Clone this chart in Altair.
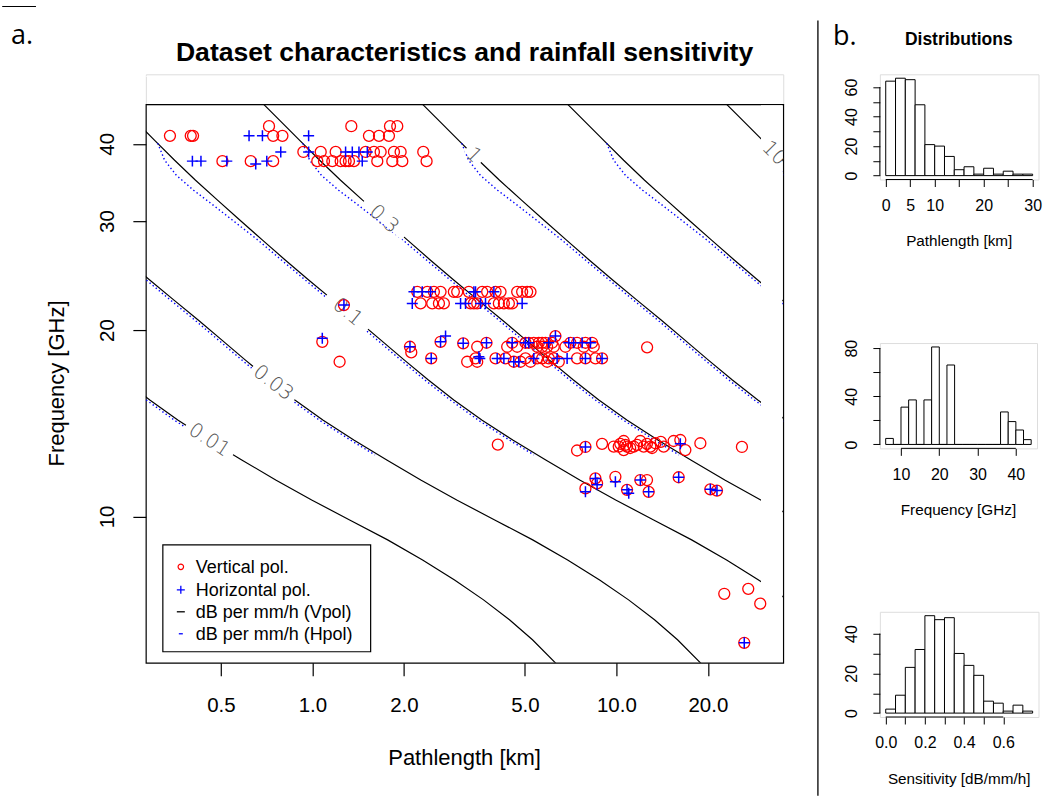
import altair as alt
import pandas as pd

SANS = "Liberation Sans"

# ---------------- scatter data (pathlength km, frequency GHz) ----------------
V_38 = [(0.340, 41.2), (0.398, 41.2), (0.405, 41.2), (0.743, 41.2), (0.797, 41.2), (1.535, 41.2),
        (1.656, 41.2), (1.786, 41.2), (0.720, 42.7), (1.343, 42.7), (1.800, 42.7), (1.902, 42.7),
        (0.934, 38.8), (1.065, 38.8), (1.193, 38.8), (1.497, 38.8), (1.594, 38.8), (1.677, 38.8),
        (1.855, 38.8), (1.951, 38.8), (2.316, 38.8), (0.506, 37.5), (0.627, 37.5), (0.743, 37.5),
        (1.038, 37.5), (1.092, 37.5), (1.163, 37.5), (1.239, 37.5), (1.286, 37.5), (1.319, 37.5),
        (1.370, 37.5), (1.635, 37.5), (1.832, 37.5), (1.976, 37.5), (2.375, 37.5)]
H_38 = [(0.619, 41.2), (0.685, 41.2), (0.972, 41.2), (0.787, 38.8), (0.972, 38.8), (1.286, 38.8),
        (1.353, 38.8), (1.423, 38.8), (1.516, 38.8), (0.403, 37.5), (0.430, 37.5), (0.523, 37.5),
        (0.708, 37.5), (1.459, 37.5), (0.651, 37.1)]
V_23 = [(2.213, 23.06), (2.387, 23.06), (2.510, 23.06), (2.640, 23.06), (2.920, 23.06), (2.995, 23.06),
        (3.271, 23.06), (3.620, 23.06), (3.758, 23.06), (4.004, 23.06), (4.158, 23.06), (4.717, 23.06),
        (4.898, 23.06), (5.087, 23.06), (5.217, 23.06), (2.270, 22.09), (2.479, 22.09), (2.608, 22.09),
        (2.707, 22.09), (3.313, 22.09), (3.398, 22.09), (3.485, 22.09), (3.954, 22.09), (4.106, 22.09),
        (4.265, 22.09), (4.429, 22.09), (4.542, 22.09), (1.270, 21.95)]
H_23 = [(2.158, 23.06), (2.298, 23.06), (2.448, 23.06), (3.398, 23.06), (3.441, 23.06), (3.954, 23.06),
        (2.131, 22.09), (3.072, 22.09), (3.190, 22.09), (3.574, 22.09), (3.711, 22.09), (4.898, 22.09),
        (1.270, 21.95)]
V_18 = [(3.739, 19.08), (4.542, 19.08), (5.023, 19.08), (5.151, 19.08), (5.350, 19.08), (5.557, 19.08),
        (5.699, 19.08), (5.844, 19.08), (6.146, 19.08), (7.059, 19.08), (7.425, 19.08), (7.911, 19.08),
        (8.318, 19.08), (6.302, 19.56), (3.485, 18.80), (4.373, 18.80), (4.717, 18.80), (5.487, 18.80),
        (5.699, 18.80), (5.918, 18.80), (6.224, 18.80), (6.798, 18.80), (7.811, 18.80), (8.424, 18.80),
        (3.441, 18.00), (4.004, 18.00), (4.318, 18.00), (5.023, 18.00), (5.487, 18.00), (5.699, 18.00),
        (5.993, 18.00), (6.224, 18.00), (7.425, 18.00), (7.911, 18.00), (8.531, 18.00), (8.972, 18.00),
        (4.598, 17.78), (4.837, 17.78), (5.217, 17.78), (5.918, 17.78), (6.465, 17.78), (1.078, 19.15),
        (1.229, 17.78), (2.094, 18.80), (2.115, 18.41), (2.460, 18.00), (2.640, 19.15), (3.134, 19.04),
        (3.230, 17.78), (3.485, 17.78), (12.62, 18.76)]
H_18 = [(3.739, 19.08), (4.542, 19.08), (5.023, 19.08), (5.151, 19.08), (5.993, 19.08), (6.971, 19.08),
        (7.239, 19.08), (7.715, 19.08), (8.215, 19.08), (6.302, 19.56), (3.555, 18.00), (4.054, 18.00),
        (4.265, 18.00), (5.350, 18.00), (6.383, 18.00), (6.885, 18.00), (7.911, 18.00), (8.972, 18.00),
        (4.598, 17.78), (4.775, 17.78), (1.078, 19.40), (2.094, 18.80), (2.460, 18.00), (2.640, 19.15),
        (2.742, 19.56), (3.134, 19.04), (3.529, 18.12)]
V_13 = [(4.074, 13.06), (7.425, 12.78), (7.911, 12.95), (8.972, 13.10), (9.800, 12.97), (10.18, 12.97),
        (10.30, 13.10), (10.57, 13.24), (10.57, 12.80), (10.70, 13.05), (10.84, 12.97), (11.10, 12.90),
        (11.40, 12.97), (11.70, 13.05), (11.99, 13.24), (12.30, 12.97), (12.60, 13.10), (12.93, 12.97),
        (13.10, 12.90), (13.43, 13.13), (14.00, 13.20), (14.31, 12.97), (15.43, 13.24), (16.23, 13.29),
        (16.86, 12.80), (18.89, 13.13), (25.88, 12.95)]
H_13 = [(7.911, 12.95), (16.23, 13.10)]
V_11 = [(7.911, 11.10), (8.531, 11.52), (8.640, 11.31), (9.925, 11.59), (10.84, 11.04), (11.99, 11.45),
        (12.61, 11.45), (12.77, 10.96), (16.03, 11.57), (20.37, 11.06), (21.42, 11.01)]
H_11 = [(7.911, 10.96), (8.531, 11.52), (8.640, 11.25), (9.925, 11.38), (10.84, 11.04), (10.98, 10.90),
        (11.99, 11.45), (12.77, 10.96), (16.03, 11.57), (20.37, 11.06), (21.42, 11.01)]
V_7 = [(22.64, 7.50), (27.15, 7.64), (29.73, 7.23), (26.34, 6.25)]
H_7 = [(26.34, 6.25)]

# ---------------- contour data ----------------
# 0.01 dB per mm/h contour (V pol); other levels scale with the level
F_GRID = [47.88, 46.14, 43.64, 40.52, 37.62, 34.93, 32.43, 30.10, 27.95, 25.94, 24.08, 22.36, 20.75,
          19.27, 17.89, 16.61, 15.42, 14.31, 13.29, 12.34, 11.45, 10.63, 9.871, 9.165, 8.507, 7.898,
          7.332, 6.808, 6.320, 5.800, 5.547]
L_V001 = [0.02154, 0.02323, 0.02603, 0.03028, 0.03522, 0.04127, 0.04875, 0.05781, 0.06855, 0.08156,
          0.09745, 0.11685, 0.14067, 0.16804, 0.20077, 0.24077, 0.29192, 0.36078, 0.45615, 0.58576,
          0.75754, 0.99471, 1.3263, 1.7683, 2.3041, 2.9356, 3.6559, 4.4495, 5.2966, 6.3022, 6.9024]
HF_GRID = [40.07, 39.04, 37.62, 35.58, 33.65, 31.84, 30.10, 27.95, 25.94, 24.08, 22.36, 20.75, 19.27,
           17.89, 16.61, 15.42, 14.31, 13.29, 12.57]
L_H001 = [0.03097, 0.03168, 0.03266, 0.03569, 0.04067, 0.04717, 0.05463, 0.06626, 0.07925, 0.09491,
          0.11380, 0.13699, 0.16365, 0.19551, 0.23442, 0.28434, 0.35138, 0.44434, 0.53580]
LEVELS = [0.01, 0.03, 0.1, 0.3, 1, 3, 10]
L_GRID_MAX = 29.9

LABEL_TEXT = ["0.01", "0.03", "0.1", "0.3", "1", "10"]
LABEL_L = [0.458, 0.743, 1.306, 1.720, 3.392, 33.05]
LABEL_F = [13.29, 16.43, 21.38, 30.21, 38.32, 38.61]
LABEL_ANGLE = [33, 38, 39, 42, 45, 45]
GAP_L1 = [0.384, 0.638, 1.116, 1.476, 3.215]
GAP_F1 = [14.04, 17.47, 22.79, 32.28, 39.35]
GAP_L2 = [0.548, 0.873, 1.525, 2.003, 3.582]
GAP_F2 = [12.58, 15.44, 20.07, 28.27, 37.33]

X_TICKS = [0.5, 1, 2, 5, 10, 20]
Y_TICKS = [10, 20, 30, 40]

# ---------------- histogram data ----------------
PL_START = [0, 2, 4, 6, 8, 10, 12, 14, 16, 18, 20, 22, 24, 26, 28]
PL_COUNT = [64, 66, 65, 48, 21, 20, 13, 4, 6, 1, 5, 1, 3, 1, 1]
FR_START = [6, 8, 10, 12, 14, 16, 18, 20, 22, 24, 26, 28, 30, 32, 34, 36, 38, 40, 42]
FR_COUNT = [5, 0, 31, 37, 0, 37, 81, 0, 66, 0, 0, 0, 0, 0, 0, 27, 19, 12, 4]
SE_START = [0.0, 0.05, 0.1, 0.15, 0.2, 0.25, 0.3, 0.35, 0.4, 0.45, 0.5, 0.55, 0.6, 0.65, 0.7]
SE_COUNT = [2, 9, 23, 32, 49, 47, 48, 30, 24, 19, 6, 5, 1, 4, 1]

LEGEND_TEXT = ["Vertical pol.", "Horizontal pol.", "dB per mm/h (Vpol)", "dB per mm/h (Hpol)"]

# ---------------- main panel ----------------
W, H = 638, 559
ONE = pd.DataFrame({"a": [0]})

xs = alt.Scale(type="log", domain=[0.2833, 35.39], nice=False, zero=False)
ys = alt.Scale(type="log", domain=[5.803, 46.33], nice=False, zero=False)
x_axis = alt.Axis(values=X_TICKS, labelExpr="format(datum.value, '.1f')", title=None, grid=False,
                  domain=False, tickSize=13, tickColor="black", tickWidth=1.2, labelFont=SANS,
                  labelFontSize=20.5, labelColor="black", labelPadding=36, labelBaseline="alphabetic",
                  labelOverlap=False, labelFlush=False)
y_axis = alt.Axis(values=Y_TICKS, title=None, grid=False, domain=False, tickSize=13, tickColor="black",
                  tickWidth=1.2, labelFont=SANS, labelFontSize=20.5, labelColor="black", labelAngle=270,
                  labelAlign="center", labelBaseline="alphabetic", labelPadding=19,
                  labelOverlap=False, labelFlush=False)
X = alt.X("L:Q", scale=xs, axis=x_axis)
Y = alt.Y("f:Q", scale=ys, axis=y_axis)

rows = []
for lev in LEVELS:
    for i, (f, l) in enumerate(zip(F_GRID, L_V001)):
        rows.append({"L": l * lev / 0.01, "f": f, "level": str(lev), "i": i})
vlines = pd.DataFrame(rows)
rows = []
for lev in LEVELS:
    for i, (f, l) in enumerate(zip(HF_GRID, L_H001)):
        rows.append({"L": l * lev / 0.01, "f": f, "level": str(lev), "i": i})
hlines = pd.DataFrame(rows)


def pts(groups):
    out = [p for g in groups for p in g]
    return pd.DataFrame({"L": [p[0] for p in out], "f": [p[1] for p in out]})


vdf = pts([V_38, V_23, V_18, V_13, V_11, V_7])
hdf = pts([H_38, H_23, H_18, H_13, H_11, H_7])
gaps = pd.DataFrame({"L": GAP_L1, "f": GAP_F1, "L2": GAP_L2, "f2": GAP_F2})
labels = pd.DataFrame({"L": LABEL_L, "f": LABEL_F, "t": LABEL_TEXT, "ang": LABEL_ANGLE})


def ptext(txt, x, y, size, weight="normal", font=SANS, align="center", angle=0, color="black"):
    kw = dict(text=txt, fontSize=size, fontWeight=weight, font=font, align=align,
              baseline="alphabetic", color=color)
    if angle:
        kw["angle"] = angle
    return alt.Chart(ONE).mark_text(**kw).encode(x=alt.value(x), y=alt.value(y))


def prule(x1, y1, x2, y2, color="black", width=1.2, dash=None):
    kw = dict(color=color, strokeWidth=width)
    if dash:
        kw["strokeDash"] = dash
    return alt.Chart(ONE).mark_rule(**kw).encode(
        x=alt.value(x1), x2=alt.value(x2), y=alt.value(y1), y2=alt.value(y2))


base_layer = alt.Chart(vlines).mark_line(color="black", strokeWidth=1.2, clip=True).encode(
    x=X, y=Y, detail="level:N", order="i:Q")
h_layer = alt.Chart(hlines).mark_line(color="#0000FF", strokeWidth=1.4, strokeDash=[1.4, 2.6],
                                      clip=True).encode(x=X, y=Y, detail="level:N", order="i:Q")
mask = alt.Chart(ONE).mark_rect(color="white").encode(
    x=alt.X(datum=L_GRID_MAX, scale=xs, axis=x_axis), x2=alt.value(W - 1),
    y=alt.value(1), y2=alt.value(H - 1))
gap_layer = alt.Chart(gaps).mark_rule(color="white", strokeWidth=8).encode(
    x=X, y=Y, x2="L2:Q", y2="f2:Q")
lab_layer = alt.Chart(labels).mark_text(font="DejaVu Sans", fontSize=20, fontWeight=200,
                                        color="#555555", clip=True).encode(
    x=X, y=Y, text="t:N", angle=alt.Angle("ang:Q", scale=None))
circ = alt.Chart(vdf).mark_point(shape="circle", filled=False, color="#FF0000", size=121,
                                 strokeWidth=1.3, opacity=1).encode(x=X, y=Y)
plus = alt.Chart(hdf).mark_point(shape="M-1,0H1M0,-1V1", filled=False, color="#0000FF", size=121,
                                 strokeWidth=1.5, opacity=1).encode(x=X, y=Y)

# legend (drawn in pixel space inside the panel)
LGX, LGY = 17, 441
leg = [alt.Chart(ONE).mark_rect(fill="white", stroke="black", strokeWidth=1.2).encode(
    x=alt.value(LGX), x2=alt.value(LGX + 208), y=alt.value(LGY), y2=alt.value(LGY + 107))]
leg_y = [LGY + 28, LGY + 51, LGY + 73, LGY + 95]
for t, yy in zip(LEGEND_TEXT, leg_y):
    leg.append(ptext(t, LGX + 33, yy, 18, align="left"))
leg.append(alt.Chart(ONE).mark_point(shape="circle", filled=False, color="#FF0000", size=30,
                                     strokeWidth=1.2, opacity=1).encode(
    x=alt.value(LGX + 18), y=alt.value(leg_y[0] - 6)))
leg.append(alt.Chart(ONE).mark_point(shape="M-1,0H1M0,-1V1", filled=False, color="#0000FF",
                                     size=64, strokeWidth=1.3, opacity=1).encode(
    x=alt.value(LGX + 18), y=alt.value(leg_y[1] - 6)))
leg.append(prule(LGX + 14, leg_y[2] - 6, LGX + 22, leg_y[2] - 6, width=1.3))
leg.append(prule(LGX + 16, leg_y[3] - 6, LGX + 20, leg_y[3] - 6, color="#0000FF", width=1.3))

deco = [
    prule(-144, -102.9, -142, -102.9, color="white", width=1),      # page anchor
    prule(650, -102.9, 653, -102.9, color="white", width=1),        # right anchor
    prule(-143.8, -97.9, -110, -97.9, color="black", width=1.2),
    ptext("a.", -135, -60.4, 27, font="Open Sans", align="left"),
    ptext("Dataset characteristics and rainfall sensitivity", W / 2, -42.9, 26.6, weight="bold"),
    ptext("Pathlength [km]", W / 2, 661, 22),
    ptext("Frequency [GHz]", -82, H / 2, 22, angle=270),
]

main = alt.layer(base_layer, h_layer, mask, gap_layer, lab_layer, circ, plus, *leg, *deco).properties(
    width=W, height=H, view=alt.ViewBackground(stroke="black", strokeWidth=1.2))

spacer = alt.Chart(ONE).mark_rule(color="white", strokeWidth=1).encode(
    x=alt.value(0), x2=alt.value(1), y=alt.value(2)).properties(width=W, height=30)

left = alt.vconcat(spacer, main, spacing=0, bounds="flush")


# ---------------- histograms ----------------
def histogram(starts, width_bin, counts, xdom, ydom, w, h, xticks, xshown, xfmt, yticks, yshown,
              title, title_dy, extra=()):
    df = pd.DataFrame({"x0": starts, "x1": [s + width_bin for s in starts], "n": counts,
                       "z": [0] * len(counts)})
    xsc = alt.Scale(domain=xdom, nice=False, zero=False)
    ysc = alt.Scale(domain=ydom, nice=False, zero=False)
    xa = alt.Axis(values=xticks, title=None, grid=False, domain=False, tickSize=7,
                  tickColor="black", tickWidth=1,
                  labelExpr=f"indexof({xshown}, datum.value) >= 0 ? format(datum.value, '{xfmt}') : ''",
                  labelFont=SANS, labelFontSize=16, labelColor="black", labelPadding=24,
                  labelBaseline="alphabetic", labelOverlap=False, labelFlush=False)
    ya = alt.Axis(values=yticks, title=None, grid=False, domain=False, tickSize=7,
                  tickColor="black", tickWidth=1,
                  labelExpr=f"indexof({yshown}, datum.value) >= 0 ? datum.label : ''",
                  labelFont=SANS, labelFontSize=16, labelColor="black", labelAngle=270,
                  labelAlign="center", labelBaseline="alphabetic", labelPadding=16,
                  labelOverlap=False, labelFlush=False)
    bars = alt.Chart(df).mark_rect(fill="white", stroke="black", strokeWidth=1).encode(
        x=alt.X("x0:Q", scale=xsc, axis=xa), x2="x1:Q",
        y=alt.Y("n:Q", scale=ysc, axis=ya), y2="z:Q")
    xline = alt.Chart(ONE).mark_rule(color="black", strokeWidth=1).encode(
        x=alt.X(datum=xticks[0], scale=xsc, axis=xa), x2=alt.datum(xticks[-1]),
        y=alt.value(h))
    yline = alt.Chart(ONE).mark_rule(color="black", strokeWidth=1).encode(
        y=alt.Y(datum=yticks[0], scale=ysc, axis=ya), y2=alt.datum(yticks[-1]),
        x=alt.value(0))
    ttl = ptext(title, w / 2, h + title_dy, 15.3)
    return alt.layer(bars, xline, yline, ttl, *extra).properties(width=w, height=h)


h1_extra = [
    prule(0, -72.9, 2, -72.9, color="white", width=1),
    prule(-62, -53.9, -62, 722.1, color="black", width=1.3),
    ptext("b.", -47, -28.9, 27, font="Open Sans", align="left"),
    ptext("Distributions", 79, -28.9, 17.5, weight="bold"),
]
h1 = histogram(PL_START, 2, PL_COUNT, [-1.2, 31.2], [-2.64, 68.64], 158.8, 105.3,
               [0, 5, 10, 15, 20, 25, 30], [0, 5, 10, 20, 30], "d",
               [0, 10, 20, 30, 40, 50, 60], [0, 20, 40, 60], "Pathlength [km]", 67, h1_extra)
h2 = histogram(FR_START, 2, FR_COUNT, [4.48, 45.52], [-3.24, 84.24], 157.3, 105.4,
               [10, 20, 30, 40], [10, 20, 30, 40], "d",
               [0, 20, 40, 60, 80], [0, 40, 80], "Frequency [GHz]", 67, [])
h3 = histogram(SE_START, 0.05, SE_COUNT, [-0.03, 0.78], [-1.96, 50.96], 158.8, 105.3,
               [0, 0.1, 0.2, 0.3, 0.4, 0.5, 0.6], [0, 0.2, 0.4, 0.6], ".1f",
               [0, 10, 20, 30, 40], [0, 20, 40], "Sensitivity [dB/mm/h]", 67, [])

right = alt.vconcat(h1, h2, h3, spacing=163, bounds="flush")

chart = alt.hconcat(left, right, spacing=15.7).properties(padding=0).configure_view(
    strokeWidth=0).configure(background="white")

chart.save("out.html", embed_options={"renderer": "svg", "actions": False})
